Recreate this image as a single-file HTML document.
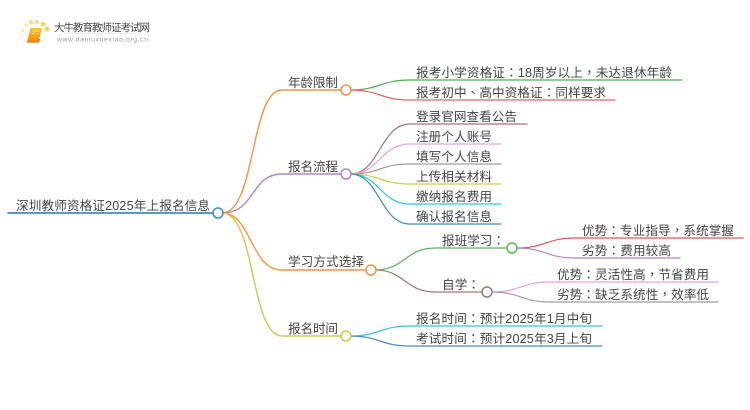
<!DOCTYPE html>
<html><head><meta charset="utf-8"><style>
html,body{margin:0;padding:0;background:#fff;width:750px;height:410px;overflow:hidden}
svg{display:block}
text{font-family:"Liberation Sans","Noto Sans CJK SC",sans-serif;font-size:12.6px;fill:#444}
tspan.p{font-family:"Noto Sans CJK TC",sans-serif}
path{fill:none;stroke-linecap:round}
circle{fill:#fff;stroke-width:1.5}
</style></head><body>
<svg width="750" height="410" viewBox="0 0 750 410" xmlns="http://www.w3.org/2000/svg">
<defs><linearGradient id="g" x1="0" y1="0" x2="0" y2="1"><stop offset="0" stop-color="#fcc12e"/><stop offset="1" stop-color="#f08a12"/></linearGradient>
<filter id="b" x="-10%" y="-10%" width="120%" height="120%"><feGaussianBlur stdDeviation="0.35"/></filter></defs>
<g filter="url(#b)">
<!-- logo -->
<circle cx="47" cy="29" r="2.500" style="fill:#fbd070;stroke:none"/>
<circle cx="43" cy="24" r="2.300" style="fill:#fbd070;stroke:none"/>
<circle cx="37" cy="22" r="2.200" style="fill:#fbd98a;stroke:none"/>
<circle cx="31" cy="22.300" r="2.200" style="fill:#fbd98a;stroke:none"/>
<circle cx="26" cy="25.300" r="1.800" style="fill:#fde3ad;stroke:none"/>
<circle cx="22.800" cy="30.500" r="1.600" style="fill:#fde3ad;stroke:none"/>
<circle cx="22" cy="36" r="1.400" style="fill:#feeccb;stroke:none"/>
<circle cx="23.300" cy="42" r="1.200" style="fill:#feeccb;stroke:none"/>
<polygon points="30.500,28 42,28 38.500,42 27,42" fill="url(#g)"/>
<path d="M27,42 L38.500,42 L39.500,39.500" stroke="#e8780f" stroke-width="1.200"/>
<path d="M33,31 L39.500,31 M32.300,33.500 L38.800,33.500" stroke="#fde3ad" stroke-width=".8"/>
<text x="54" y="31" textLength="96" lengthAdjust="spacing" style="font-size:10.500px;fill:#444">大牛教育教师证考试网</text>
<text x="57" y="41.500" textLength="91" lengthAdjust="spacing" style="font-size:6.800px;fill:#999">www.daniuxuexiao.org.cn</text>
<path d="M62,33.500 H140" stroke="#eee" stroke-width="1"/>

<!-- branches level 1 -->
<path d="M8,213 H218" stroke="#3d8dc4" stroke-width="1.800"/>
<path d="M222,213 C256,213 250,90 282,90 H346" stroke="#fa9240" stroke-width="1.400"/>
<path d="M222,213 C256,213 250,174 282,174 H346" stroke="#ae85d0" stroke-width="1.400"/>
<path d="M222,213 C252,213 250,270 282,270 H371" stroke="#fa9240" stroke-width="1.400"/>
<path d="M222,213 C256,213 250,336 282,336 H346" stroke="#cfc94e" stroke-width="1.400"/>

<!-- age -->
<path d="M350,90 C380,90 380,80 410,80 H682" stroke="#4caf50" stroke-width="1.200"/>
<path d="M350,90 C380,90 380,100 410,100 H615" stroke="#e06666" stroke-width="1.200"/>
<!-- process -->
<path d="M350,174 C380,174 380,124 410,124 H527" stroke="#a1776f" stroke-width="1.200"/>
<path d="M350,174 C380,174 380,144 410,144 H501" stroke="#ef9fd8" stroke-width="1.200"/>
<path d="M350,174 C380,174 380,164 410,164 H501" stroke="#9e9e9e" stroke-width="1.200"/>
<path d="M350,174 C380,174 380,184 410,184 H501" stroke="#cfc94e" stroke-width="1.200"/>
<path d="M350,174 C380,174 380,204 410,204 H501" stroke="#32c6d8" stroke-width="1.200"/>
<path d="M350,174 C380,174 380,224 410,224 H501" stroke="#3d8dc4" stroke-width="1.200"/>
<!-- study -->
<path d="M375,270 C405,270 405,248 435,248 H512" stroke="#5cb85c" stroke-width="1.200"/>
<path d="M375,270 C405,270 405,292 435,292 H487" stroke="#a1776f" stroke-width="1.200"/>
<path d="M516,248 C546,248 546,238 575,238 H743" stroke="#e05555" stroke-width="1.200"/>
<path d="M516,248 C546,248 546,258 575,258 H680" stroke="#ae85d0" stroke-width="1.200"/>
<path d="M491,292 C521,292 521,282 550,282 H718" stroke="#ef9fd8" stroke-width="1.200"/>
<path d="M491,292 C521,292 521,302 550,302 H718" stroke="#9e9e9e" stroke-width="1.200"/>
<!-- time -->
<path d="M350,336 C380,336 380,326 410,326 H602" stroke="#32c6d8" stroke-width="1.200"/>
<path d="M350,336 C380,336 380,346 410,346 H602" stroke="#3d8dc4" stroke-width="1.200"/>

<!-- circles -->
<circle cx="218" cy="213" r="5" stroke="#3d8dc4"/>
<circle cx="346" cy="90" r="5" stroke="#fa9240"/>
<circle cx="346" cy="174" r="5" stroke="#ae85d0"/>
<circle cx="371" cy="270" r="5" stroke="#fa9240"/>
<circle cx="346" cy="336" r="5" stroke="#cfc94e"/>
<circle cx="512" cy="248" r="5" stroke="#5cb85c"/>
<circle cx="487" cy="292" r="5" stroke="#a1776f"/>

<!-- labels -->
<text x="16" y="210" textLength="194" lengthAdjust="spacing">深圳教师资格证2025年上报名信息</text>
<text x="288" y="87" textLength="50" lengthAdjust="spacing">年龄限制</text>
<text x="288" y="171" textLength="50" lengthAdjust="spacing">报名流程</text>
<text x="288" y="266" textLength="76" lengthAdjust="spacing">学习方式选择</text>
<text x="288" y="333" textLength="50" lengthAdjust="spacing">报名时间</text>
<text x="416" y="77" textLength="256" lengthAdjust="spacing">报考小学资格证<tspan class="p">：</tspan>18周岁以上<tspan class="p">，</tspan>未达退休年龄</text>
<text x="416" y="97" textLength="190" lengthAdjust="spacing">报考初中<tspan class="p">、</tspan>高中资格证<tspan class="p">：</tspan>同样要求</text>
<text x="416" y="121" textLength="101" lengthAdjust="spacing">登录官网查看公告</text>
<text x="416" y="141" textLength="76" lengthAdjust="spacing">注册个人账号</text>
<text x="416" y="161" textLength="76" lengthAdjust="spacing">填写个人信息</text>
<text x="416" y="181" textLength="76" lengthAdjust="spacing">上传相关材料</text>
<text x="416" y="201" textLength="76" lengthAdjust="spacing">缴纳报名费用</text>
<text x="416" y="221" textLength="76" lengthAdjust="spacing">确认报名信息</text>
<text x="442" y="245" textLength="63" lengthAdjust="spacing">报班学习<tspan class="p">：</tspan></text>
<text x="442" y="289" textLength="38" lengthAdjust="spacing">自学<tspan class="p">：</tspan></text>
<text x="582" y="235" textLength="152" lengthAdjust="spacing">优势<tspan class="p">：</tspan>专业指导<tspan class="p">，</tspan>系统掌握</text>
<text x="582" y="255" textLength="89" lengthAdjust="spacing">劣势<tspan class="p">：</tspan>费用较高</text>
<text x="557" y="279" textLength="152" lengthAdjust="spacing">优势<tspan class="p">：</tspan>灵活性高<tspan class="p">，</tspan>节省费用</text>
<text x="557" y="299" textLength="152" lengthAdjust="spacing">劣势<tspan class="p">：</tspan>缺乏系统性<tspan class="p">，</tspan>效率低</text>
<text x="416" y="323" textLength="176" lengthAdjust="spacing">报名时间<tspan class="p">：</tspan>预计2025年1月中旬</text>
<text x="416" y="343" textLength="176" lengthAdjust="spacing">考试时间<tspan class="p">：</tspan>预计2025年3月上旬</text>
</g>
</svg>
</body></html>
